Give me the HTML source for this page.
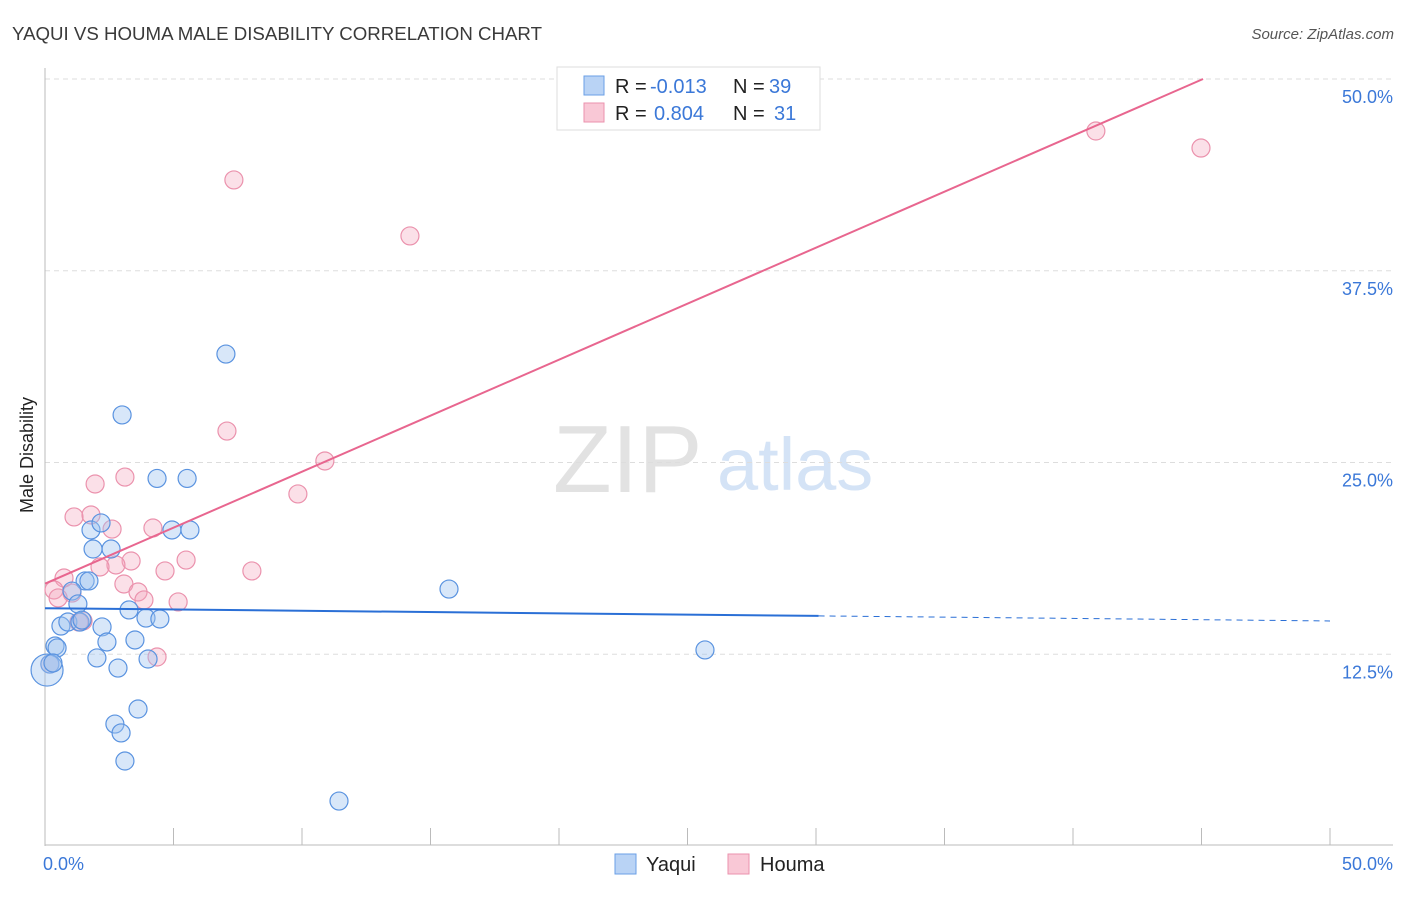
<!DOCTYPE html>
<html><head><meta charset="utf-8"><style>
body{margin:0;background:#fff;font-family:"Liberation Sans",sans-serif}
svg text{font-family:"Liberation Sans",sans-serif}
</style></head><body>
<svg width="1406" height="892" xmlns="http://www.w3.org/2000/svg">
<text x="12" y="40" font-size="18" fill="#3a3a3a" textLength="530" lengthAdjust="spacingAndGlyphs">YAQUI VS HOUMA MALE DISABILITY CORRELATION CHART</text>
<text x="1394" y="39" font-size="15" fill="#555" font-style="italic" text-anchor="end">Source: ZipAtlas.com</text>
<g>
<text x="553" y="492" font-size="96" font-family="Liberation Serif,serif" fill="#e2e2e2">ZIP</text>
<text x="717" y="490" font-size="74" fill="#d4e3f6">atlas</text>
</g>
<g id="grid"></g>
<line x1="45" y1="68" x2="45" y2="846" stroke="#bbb"/>
<line x1="45" y1="845" x2="1393" y2="845" stroke="#bbb"/>
<g id="xticks"></g>
<text x="43" y="870" font-size="18" fill="#3b78d8">0.0%</text>
<text x="1393" y="870" font-size="18" fill="#3b78d8" text-anchor="end">50.0%</text>
<text transform="translate(33,455) rotate(-90)" font-size="18" fill="#222" text-anchor="middle">Male Disability</text>
<g id="pts"></g>
<g id="lines"></g>
<g>
<rect x="557" y="67" width="263" height="63" fill="#fff" stroke="#ddd"/>
<rect x="584" y="76" width="20" height="19" fill="#b9d3f5" stroke="#6a9fe6"/>
<rect x="584" y="103" width="20" height="19" fill="#f9c8d6" stroke="#eb92ad"/>
<text x="615" y="93" font-size="20" fill="#222">R = <tspan x="650" fill="#3b78d8">-0.013</tspan><tspan x="733">N = </tspan><tspan x="769" fill="#3b78d8">39</tspan></text>
<text x="615" y="120" font-size="20" fill="#222">R = <tspan x="654" fill="#3b78d8">0.804</tspan><tspan x="733">N = </tspan><tspan x="774" fill="#3b78d8">31</tspan></text>
</g>
<g>
<rect x="615" y="854" width="21" height="20" fill="#b9d3f5" stroke="#6a9fe6"/>
<text x="646" y="871" font-size="20" fill="#222">Yaqui</text></g>
<g>
<rect x="728" y="854" width="21" height="20" fill="#f9c8d6" stroke="#eb92ad"/>
<text x="760" y="871" font-size="20" fill="#222">Houma</text></g>
</svg>
<script>
const yTicks=[12.5,25,37.5,50];
const yTickLabels=["12.5%","25.0%","37.5%","50.0%"];
const xTicks=[0,5,10,15,20,25,30,35,40,45,50];
const yaquiX=[7.04,3.00,4.36,5.53,1.79,4.94,5.64,2.18,1.87,2.57,1.56,1.71,1.05,15.72,1.28,3.27,3.93,4.47,0.62,0.89,1.36,2.22,0.39,0.47,2.41,3.50,2.02,4.01,2.84,0.19,0.08,25.68,3.62,2.72,2.96,3.11,11.44,1.44,0.31];
const yaquiY=[32.07,28.10,23.96,23.96,20.60,20.60,20.60,21.06,19.36,19.36,17.28,17.28,16.62,16.75,15.78,15.39,14.86,14.80,14.34,14.60,14.60,14.28,13.04,12.91,13.30,13.43,12.26,12.19,11.60,11.86,11.47,12.78,8.93,7.95,7.37,5.54,2.93,14.73,11.93];
const yaquiBig=[30];
const houmaX=[7.35,14.20,40.89,44.98,7.08,10.89,9.84,3.11,1.95,1.13,1.79,2.61,4.20,5.49,3.35,2.76,2.14,4.67,8.05,0.74,3.07,0.35,1.05,3.62,3.85,5.18,0.51,1.48,4.36,0.19,1.32];
const houmaY=[43.42,39.77,46.61,45.50,27.05,25.10,22.95,24.05,23.60,21.45,21.58,20.66,20.73,18.64,18.58,18.32,18.19,17.93,17.93,17.47,17.08,16.69,16.49,16.56,16.04,15.91,16.17,14.67,12.32,11.86,14.60];
const yaquiTrend=[15.5,14.67];
const houmaTrend=[17.1,50];
const houmaTrendEndX=45.06;
const yaquiSolidEndX=30.1;

const NS="http://www.w3.org/2000/svg";
const sx=v=>45+v*25.7, sy=v=>846-v*15.34;
function mk(t,a,p){const e=document.createElementNS(NS,t);for(const k in a)e.setAttribute(k,a[k]);document.getElementById(p).appendChild(e);return e;}
yTicks.forEach((t,i)=>{
 const l=mk('line',{x1:45,x2:1393,y1:sy(t),y2:sy(t),stroke:'#ddd','stroke-dasharray':'5,4'},'grid');
 
 
 const tx=mk('text',{x:1393,y:sy(t)+24,'font-size':18,fill:'#3b78d8','text-anchor':'end'},'grid');
 tx.textContent=yTickLabels[i];
 
 
});
xTicks.forEach(t=>{
 const l=mk('line',{x1:sx(t),x2:sx(t),y1:828,y2:845,stroke:'#bbb'},'xticks');
 
 
});
houmaX.forEach((x,i)=>{
 const c=mk('circle',{cx:sx(x),cy:sy(houmaY[i]),r:9,fill:'#f4a6be',
 'fill-opacity':0.35,stroke:'#eb92ad','stroke-width':1.2},'pts');
 
 
});
yaquiX.forEach((x,i)=>{
 const c=mk('circle',{cx:sx(x),cy:sy(yaquiY[i]),r:yaquiBig.includes(i)?16:9,fill:'#9ec2f0',
 'fill-opacity':0.4,stroke:'#5a93e0','stroke-width':1.2},'pts');
 
 
});
const yAt=x=>yaquiTrend[0]+(yaquiTrend[1]-yaquiTrend[0])*x/50;
let l1=mk('line',{x1:sx(0),y1:sy(yaquiTrend[0]),x2:sx(yaquiSolidEndX),y2:sy(yAt(yaquiSolidEndX)),stroke:'#2a6fd6','stroke-width':2},'lines');


let l2=mk('line',{x1:sx(yaquiSolidEndX),y1:sy(yAt(yaquiSolidEndX)),x2:sx(50),y2:sy(yaquiTrend[1]),stroke:'#2a6fd6','stroke-width':1,'stroke-dasharray':'6,5'},'lines');


let l3=mk('line',{x1:sx(0),y1:sy(houmaTrend[0]),x2:sx(houmaTrendEndX),y2:sy(houmaTrend[1]),stroke:'#e8668f','stroke-width':2},'lines');


</script>
</body></html>
